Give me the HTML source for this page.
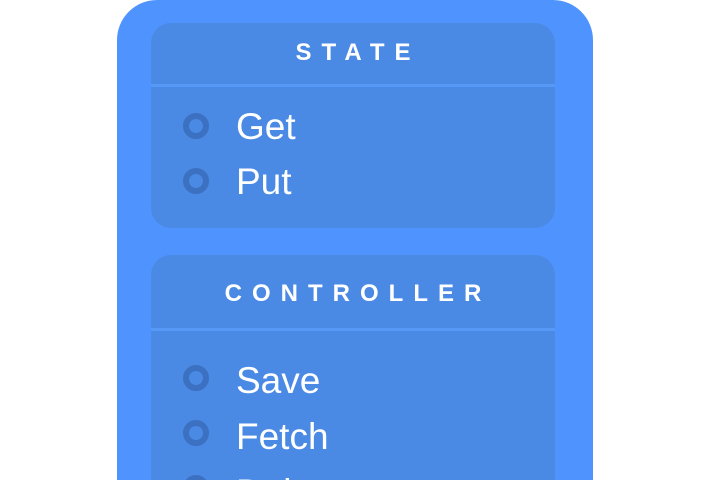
<!DOCTYPE html>
<html style="overflow:hidden;height:480px"><head><style>
body{margin:0;width:710px;height:480px;background:#fff;overflow:hidden;position:relative;font-family:"Liberation Sans",sans-serif}
.outer{position:absolute;left:117px;top:0;width:476px;height:480px;background:#4f94fe;border-radius:40px 40px 0 0}
.panel{position:absolute;left:151px;width:404px;background:#4a89e4;border-radius:20px}
.title{position:absolute;left:0;width:100%;text-align:center;color:#fff;font-weight:bold;font-size:24px;letter-spacing:10px;text-indent:10px}
.div{position:absolute;left:0;width:100%;height:3px;background:#5698f5}
.item{position:absolute;left:85px;color:#fff;font-size:37px;line-height:40px;white-space:nowrap}
.ring{position:absolute;left:32px;width:14px;height:14px;border:6px solid #3c71c1;border-radius:50%}
.clip{position:absolute;left:0;top:216px;width:404px;height:9px;overflow:hidden}
</style></head><body>
<div class="outer"></div>
<div class="panel" style="top:23px;height:205px">
  <div class="title" style="top:16px">STATE</div>
  <div class="div" style="top:61px"></div>
  <div class="ring" style="top:90px"></div><div class="item" style="top:84px">Get</div>
  <div class="ring" style="top:145px"></div><div class="item" style="top:139px">Put</div>
</div>
<div class="panel" style="top:255px;height:225px;border-radius:20px 20px 0 0;overflow:hidden">
  <div class="title" style="top:25px">CONTROLLER</div>
  <div class="div" style="top:73px"></div>
  <div class="ring" style="top:110px"></div><div class="item" style="top:106px">Save</div>
  <div class="ring" style="top:165px"></div><div class="item" style="top:162px">Fetch</div>
  <div class="clip">
    <div class="ring" style="top:4px"></div><div class="item" style="top:2px">Delete</div>
  </div>
</div>
</body></html>
